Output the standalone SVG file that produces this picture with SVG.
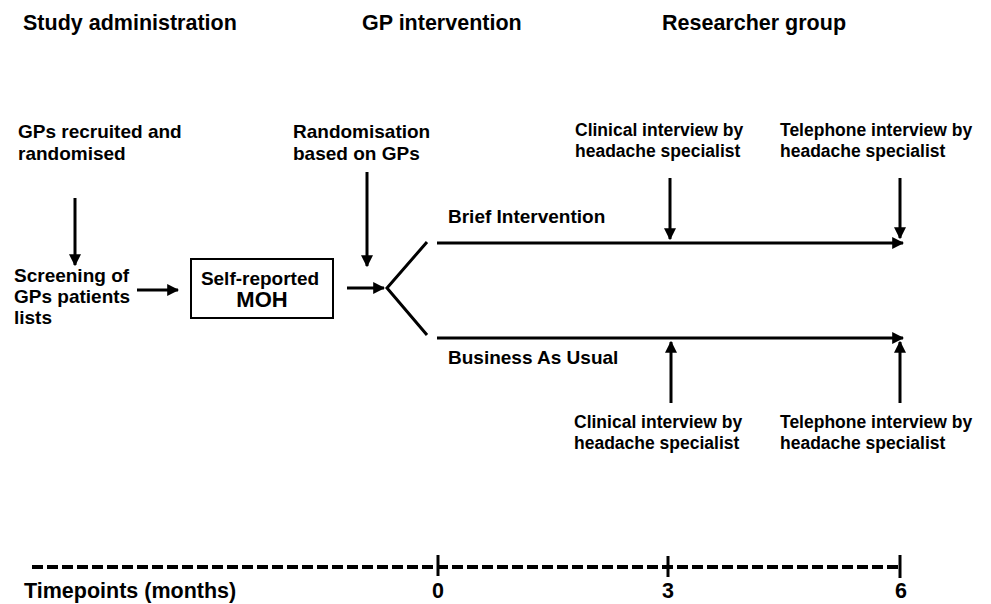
<svg xmlns="http://www.w3.org/2000/svg" width="991" height="604" viewBox="0 0 991 604">
<style>
text{font-family:"Liberation Sans",Arial,sans-serif;font-weight:bold;fill:#000}
.h{font-size:21.5px}
.l{font-size:19px}
.s{font-size:17.5px}
.t{font-size:21.5px}
.ln{stroke:#000;stroke-width:3;fill:none}
</style>
<defs>
<marker id="ah" viewBox="0 0 10 10" refX="9" refY="5" markerWidth="4" markerHeight="4" markerUnits="strokeWidth" orient="auto">
<path d="M0,0 L10,5 L0,10 Z" fill="#000"/>
</marker>
</defs>
<rect width="991" height="604" fill="#fff"/>
<g id="headers">
<text class="h" x="23" y="30">Study administration</text>
<text class="h" x="362" y="30">GP intervention</text>
<text class="h" x="662" y="30" font-size="20.5">Researcher group</text>
</g>
<g id="gps-recruited"><text class="l" x="18" y="138">GPs recruited and</text><text class="l" x="18" y="160">randomised</text></g>
<g id="randomisation"><text class="l" x="293" y="138">Randomisation</text><text class="l" x="293" y="160">based on GPs</text></g>
<g id="screening"><text class="l" x="14" y="282">Screening of</text><text class="l" x="14" y="303">GPs patients</text><text class="l" x="14" y="324">lists</text></g>
<g id="moh">
<rect x="191" y="259" width="142" height="59" fill="#fff" stroke="#000" stroke-width="2"/>
<text class="l" x="260" y="285" text-anchor="middle">Self-reported</text>
<text x="262" y="307" text-anchor="middle" font-size="22">MOH</text>
</g>
<g id="brief"><text class="l" x="448" y="223">Brief Intervention</text></g>
<g id="bau"><text class="l" x="448" y="364">Business As Usual</text></g>
<g id="clin-top"><text class="s" x="575" y="136">Clinical interview by</text><text class="s" x="575" y="157">headache specialist</text></g>
<g id="tel-top"><text class="s" x="780" y="136">Telephone interview by</text><text class="s" x="780" y="157">headache specialist</text></g>
<g id="clin-bot"><text class="s" x="574" y="428">Clinical interview by</text><text class="s" x="574" y="449">headache specialist</text></g>
<g id="tel-bot"><text class="s" x="780" y="428">Telephone interview by</text><text class="s" x="780" y="449">headache specialist</text></g>
<g id="connectors">
<line class="ln" x1="75" y1="198" x2="75" y2="265" marker-end="url(#ah)"/>
<line class="ln" x1="367" y1="172" x2="367" y2="266" marker-end="url(#ah)"/>
<line class="ln" x1="137" y1="290" x2="178" y2="290" marker-end="url(#ah)"/>
<line class="ln" x1="347" y1="288" x2="384" y2="288" marker-end="url(#ah)"/>
<polyline class="ln" points="427,242 387,288 427,335"/>
<line class="ln" x1="437" y1="243" x2="903" y2="243" marker-end="url(#ah)"/>
<line class="ln" x1="437" y1="338" x2="903" y2="338" marker-end="url(#ah)"/>
<line class="ln" x1="670" y1="178" x2="670" y2="239" marker-end="url(#ah)"/>
<line class="ln" x1="900" y1="178" x2="900" y2="238" marker-end="url(#ah)"/>
<line class="ln" x1="671" y1="403" x2="671" y2="342" marker-end="url(#ah)"/>
<line class="ln" x1="900" y1="403" x2="900" y2="342" marker-end="url(#ah)"/>
</g>
<g id="timeline">
<line x1="32" y1="567" x2="900" y2="567" stroke="#000" stroke-width="4" stroke-dasharray="11,4"/>
<line class="ln" x1="438" y1="555" x2="438" y2="576"/>
<line class="ln" x1="668" y1="556" x2="668" y2="577"/>
<line class="ln" x1="900" y1="555" x2="900" y2="578"/>
<text class="t" x="24" y="598">Timepoints (months)</text>
<text class="t" x="438" y="598" text-anchor="middle">0</text>
<text class="t" x="668" y="598" text-anchor="middle">3</text>
<text class="t" x="901" y="598" text-anchor="middle">6</text>
</g>
</svg>
